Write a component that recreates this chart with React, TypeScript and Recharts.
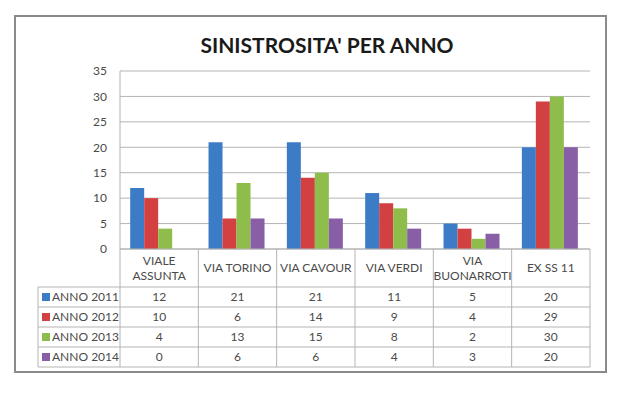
import { BarChart, Bar, XAxis, YAxis, CartesianGrid } from "recharts";

const categories = ["VIALE ASSUNTA", "VIA TORINO", "VIA CAVOUR", "VIA VERDI", "VIA BUONARROTI", "EX SS 11"];
const categoryLines = [["VIALE", "ASSUNTA"], ["VIA TORINO"], ["VIA CAVOUR"], ["VIA VERDI"], ["VIA", "BUONARROTI"], ["EX SS 11"]];
const anno2011 = [12, 21, 21, 11, 5, 20];
const anno2012 = [10, 6, 14, 9, 4, 29];
const anno2013 = [4, 13, 15, 8, 2, 30];
const anno2014 = [0, 6, 6, 4, 3, 20];
const yTicks = [0, 5, 10, 15, 20, 25, 30, 35];

const series = [
  { key: "a2011", name: "ANNO 2011", values: anno2011, color: "#3C7CC6" },
  { key: "a2012", name: "ANNO 2012", values: anno2012, color: "#D24042" },
  { key: "a2013", name: "ANNO 2013", values: anno2013, color: "#8FBD4B" },
  { key: "a2014", name: "ANNO 2014", values: anno2014, color: "#885FA7" },
];

const data = categories.map((c, i) => ({
  name: c,
  a2011: anno2011[i],
  a2012: anno2012[i],
  a2013: anno2013[i],
  a2014: anno2014[i],
}));

const FONT = "Lato, 'Open Sans', sans-serif";
const GRID = "#b4b4b4";
const TEXT = "#4a4a4a";
const FS = 12;

// plot geometry (matches chart margins below)
const PLOT_LEFT = 120;
const PLOT_RIGHT = 590;
const BASE_Y = 249;
const HEAD_BOTTOM = 287;
const ROW_H = 20;
const TABLE_LEFT = 38;
const colW = (PLOT_RIGHT - PLOT_LEFT) / categories.length;

function CategoryTick(props: any) {
  const { x, y, index } = props;
  const lines = categoryLines[index] || [props.payload.value];
  const mid = (BASE_Y + HEAD_BOTTOM) / 2;
  const start = mid - ((lines.length - 1) * 15) / 2;
  return (
    <text x={x} y={y} textAnchor="middle" fontSize={FS} fill={TEXT} fontFamily={FONT}>
      {lines.map((l: string, i: number) => (
        <tspan key={i} x={x} y={start + i * 15} dy="0.35em">
          {l}
        </tspan>
      ))}
    </text>
  );
}

function DataTable() {
  const tableBottom = HEAD_BOTTOM + ROW_H * series.length;
  const bounds = categories.map((_, i) => PLOT_LEFT + colW * i).concat([PLOT_RIGHT]);
  return (
    <svg width={620} height={400} style={{ position: "absolute", left: 0, top: 0, pointerEvents: "none" }}>
      {bounds.map((bx, i) => (
        <line key={"v" + i} x1={bx} x2={bx} y1={BASE_Y} y2={tableBottom} stroke={GRID} strokeWidth={1} />
      ))}
      <line x1={TABLE_LEFT} x2={TABLE_LEFT} y1={HEAD_BOTTOM} y2={tableBottom} stroke={GRID} strokeWidth={1} />
      {series.map((_, r) => (
        <line key={"h" + r} x1={TABLE_LEFT} x2={PLOT_RIGHT} y1={HEAD_BOTTOM + ROW_H * r} y2={HEAD_BOTTOM + ROW_H * r} stroke={GRID} strokeWidth={1} />
      ))}
      <line x1={TABLE_LEFT} x2={PLOT_RIGHT} y1={tableBottom} y2={tableBottom} stroke={GRID} strokeWidth={1} />
      {series.map((s, r) => {
        const cy = HEAD_BOTTOM + ROW_H * r + ROW_H / 2;
        return (
          <g key={s.key}>
            <rect x={TABLE_LEFT + 4} y={cy - 4} width={8} height={8} fill={s.color} />
            <text x={TABLE_LEFT + 14} y={cy} dy="0.35em" fontSize={FS} fill={TEXT} fontFamily={FONT}>
              {s.name}
            </text>
            {s.values.map((v, i) => (
              <text key={i} x={PLOT_LEFT + colW * (i + 0.5)} y={cy} dy="0.35em" textAnchor="middle" fontSize={FS} fill={TEXT} fontFamily={FONT}>
                {v}
              </text>
            ))}
          </g>
        );
      })}
    </svg>
  );
}

export default function App() {
  return (
    <div style={{ position: "absolute", left: 0, top: 0, width: 620, height: 400, background: "#fff", fontFamily: FONT }}>
      <div
        style={{
          position: "absolute",
          left: 14,
          top: 15,
          width: 593,
          height: 358,
          border: "2px solid #8a8a8a",
          boxSizing: "border-box",
        }}
      />
      <div
        style={{
          position: "absolute",
          left: 0,
          width: 654,
          top: 32,
          textAlign: "center",
          fontSize: 21,
          fontWeight: 700,
          color: "#1a1a1a",
          fontFamily: FONT,
        }}
      >
        SINISTROSITA' PER ANNO
      </div>
      <div style={{ position: "absolute", left: 0, top: 0 }}>
        <BarChart
          width={620}
          height={HEAD_BOTTOM}
          data={data}
          margin={{ top: 71, right: 620 - PLOT_RIGHT, bottom: 0, left: 0 }}
          barCategoryGap="13%"
          barGap={0}
        >
          <CartesianGrid vertical={false} stroke={GRID} strokeDasharray="" />
          <XAxis
            dataKey="name"
            height={HEAD_BOTTOM - BASE_Y}
            interval={0}
            tickLine={false}
            axisLine={{ stroke: GRID }}
            tick={<CategoryTick />}
          />
          <YAxis
            width={PLOT_LEFT}
            domain={[0, 35]}
            ticks={yTicks}
            tickLine={false}
            tickSize={6}
            tickMargin={7}
            axisLine={{ stroke: GRID }}
            tick={{ fill: TEXT, fontSize: FS, fontFamily: FONT }}
          />
          {series.map((s) => (
            <Bar key={s.key} dataKey={s.key} name={s.name} fill={s.color} isAnimationActive={false} />
          ))}
        </BarChart>
      </div>
      <DataTable />
    </div>
  );
}
